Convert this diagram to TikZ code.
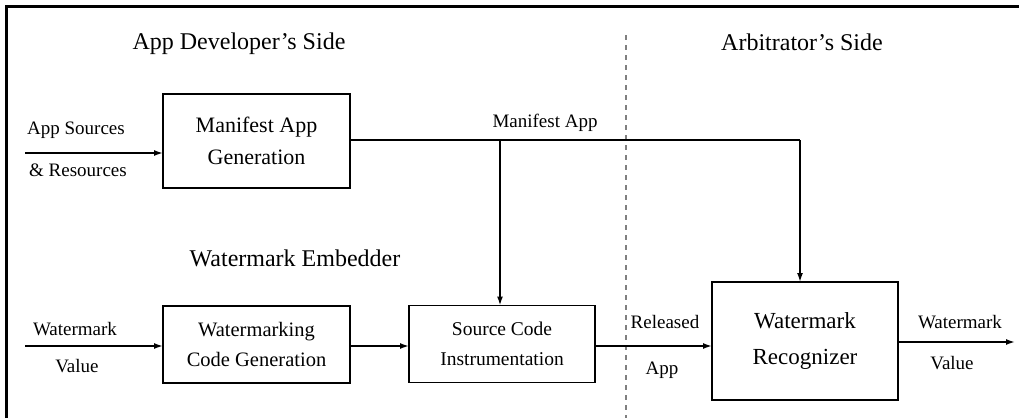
\documentclass[tikz,border=0pt]{standalone}
\usepackage{fontspec}
\setmainfont{Liberation Serif}
\usepackage{tikz}
\usetikzlibrary{positioning,arrows.meta}

\begin{document}
\begin{tikzpicture}[x=1pt, y=-1pt,
  blockbox/.style={draw, line width=1.6pt, inner sep=0pt, outer sep=0pt, align=center},
  flow/.style={line width=1.6pt, -{Latex[length=9pt,width=6pt]}},
  lbl/.style={font=\fontsize{19}{21}\selectfont},
  side/.style={font=\fontsize{24}{26}\selectfont}]
\useasboundingbox (0,0) rectangle (1019,418);

% Rahmen
\draw[line width=3pt] (6,418) -- (6,6) -- (1019,6);

% Trennlinie
\draw[gray, line width=1.2pt, dash pattern=on 5pt off 5pt] (626,35) -- (626,418);

% Ueberschriften
\node[side] (devside) at (239,44) {App Developer's Side};
\node[side] (arbside) at (802,42) {Arbitrator's Side};
\node[side] (embedder) at (295,258) {Watermark Embedder};

% Bloecke
\node[blockbox, minimum width=187pt, minimum height=94pt,
  font=\fontsize{22}{32}\selectfont] (mgen) at (256.5,141) {Manifest App\\Generation};
\node[blockbox, minimum width=187pt, minimum height=77pt,
  font=\fontsize{20.5}{30}\selectfont] (wgen) at (256.5,344.5) {Watermarking\\Code Generation};
\node[blockbox, minimum width=186pt, minimum height=77pt,
  font=\fontsize{19.5}{30}\selectfont] (sci) at (502,344) {Source Code\\Instrumentation};
\node[blockbox, minimum width=186pt, minimum height=118pt,
  font=\fontsize{23}{36}\selectfont] (rec) at (805,341) {Watermark\\Recognizer};

% Hilfspunkte
\coordinate (srcin) at (25,153);
\coordinate (wmin) at (25,346);
\coordinate (branch) at (500,140);
\coordinate (mtop) at (800,140);
\coordinate (wmout) at (1015,342);

% Verbindungen
\draw[flow] (srcin) -- (srcin -| mgen.west);
\draw[line width=1.6pt] (mgen.east |- mtop) -- (mtop);
\draw[flow] (mtop) -- (mtop |- rec.north);
\draw[flow] (branch) -- (branch |- sci.north);
\draw[flow] (wmin) -- (wmin -| wgen.west);
\draw[flow] (wgen.east |- wmin) -- (sci.west |- wmin);
\draw[flow] (sci.east |- wmin) -- (rec.west |- wmin);
\draw[flow] (rec.east |- wmout) -- (wmout);

% Beschriftungen
\node[lbl] (srclbl) at (76,130) {App Sources};
\node[lbl] (reslbl) at (78,170) {\& Resources};
\node[lbl] (wminlbl) at (75,329) {Watermark};
\node[lbl] (vinlbl) at (77,366) {Value};
\node[lbl] (manlbl) at (545,123) {Manifest App};
\node[lbl] (rellbl) at (665,322) {Released};
\node[lbl] (applbl) at (662,370) {App};
\node[lbl] (wmoutlbl) at (960,322) {Watermark};
\node[lbl] (voutlbl) at (952,363) {Value};
\end{tikzpicture}
\end{document}
